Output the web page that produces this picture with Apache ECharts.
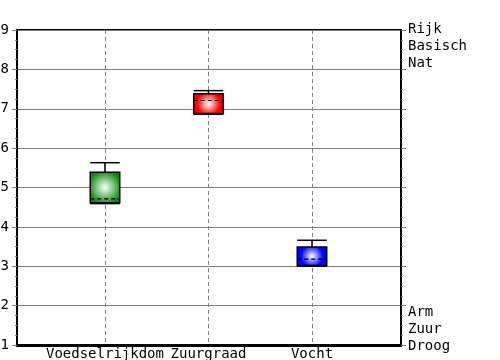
<!DOCTYPE html>
<html>
<head>
<meta charset="utf-8">
<script src="https://cdn.jsdelivr.net/npm/echarts@6/dist/echarts.min.js"></script>
<style>html,body{margin:0;padding:0;background:#fff}#c{width:500px;height:360px}</style>
</head>
<body>
<div id="c"></div>
<script>
var categories = ['Voedselrijkdom', 'Zuurgraad', 'Vocht'];
var whiskerHigh = [5.63, 7.46, 3.66];
var boxHigh = [5.39, 7.38, 3.49];
var boxLow = [4.61, 6.88, 3.02];
var whiskerLow = [4.61, 6.88, 3.02];
var means = [4.71, 7.21, 3.18];
var boxColors = ['#058a05', '#ff0000', '#0000ff'];
var yTicks = [1, 2, 3, 4, 5, 6, 7, 8, 9];
var topLabels = ['Rijk', 'Basisch', 'Nat'];
var bottomLabels = ['Arm', 'Zuur', 'Droog'];

var FONT = 'DejaVu Sans Mono';
var data = categories.map(function (c, i) {
  return [i + 1, whiskerLow[i], boxLow[i], boxHigh[i], whiskerHigh[i], means[i]];
});

var chart = echarts.init(document.getElementById('c'), null, {renderer: 'canvas'});
chart.setOption({
  animation: false,
  backgroundColor: '#fff',
  grid: {left: 17, right: 99, top: 30, bottom: 15, show: true, borderColor: '#000', borderWidth: 2, containLabel: false, outerBoundsMode: 'none'},
  xAxis: {
    type: 'value', min: 0.15, max: 3.86,
    axisLine: {show: true, onZero: false, lineStyle: {color: '#000', width: 3}},
    axisTick: {show: false, customValues: [1, 2, 3]},
    axisLabel: {customValues: [1, 2, 3], margin: 2, color: '#000', fontFamily: FONT, fontSize: 14,
      formatter: function (v) { return categories[Math.round(v) - 1] || ''; }},
    splitLine: {show: true, lineStyle: {color: '#808080', type: [4, 3], width: 1}}
  },
  yAxis: [{
    type: 'value', min: 1, max: 9, interval: 1, position: 'left',
    axisLine: {show: true, lineStyle: {color: '#000', width: 2}},
    axisTick: {show: true, length: 5, lineStyle: {color: '#808080'}},
    minorTick: {show: true, splitNumber: 4, length: 2, lineStyle: {color: '#808080'}},
    axisLabel: {margin: 8, color: '#000', fontFamily: FONT, fontSize: 14,
      formatter: function (v) { return yTicks.indexOf(v) >= 0 ? String(v) : ''; }},
    splitLine: {show: true, lineStyle: {color: '#808080', width: 1}}
  }, {
    type: 'value', min: 1, max: 9, interval: 1, position: 'right',
    axisLine: {show: true, lineStyle: {color: '#000', width: 2}},
    axisTick: {show: true, length: 5, lineStyle: {color: '#808080'}},
    minorTick: {show: true, splitNumber: 4, length: 2, lineStyle: {color: '#808080'}},
    axisLabel: {customValues: [8.594, 1.406], margin: 7, color: '#000', fontFamily: FONT, fontSize: 14, lineHeight: 17, align: 'left',
      formatter: function (v) { return (v > 5 ? topLabels : bottomLabels).join('\n'); }},
    splitLine: {show: false}
  }],
  series: [{
    type: 'custom',
    data: data,
    encode: {x: 0, y: [1, 2, 3, 4, 5]},
    clip: false,
    z: 5,
    renderItem: function (params, api) {
      var i = params.dataIndex;
      var x = api.value(0);
      var pLow = api.coord([x, api.value(1)]);
      var pQ1 = api.coord([x, api.value(2)]);
      var pQ3 = api.coord([x, api.value(3)]);
      var pHigh = api.coord([x, api.value(4)]);
      var pMean = api.coord([x, api.value(5)]);
      var w = api.size([0.285, 0])[0];
      var cx = pQ1[0];
      var col = boxColors[i];
      var blk = {stroke: '#000', lineWidth: 1.5};
      return {type: 'group', children: [
        {type: 'line', shape: {x1: cx, y1: pQ3[1], x2: cx, y2: pHigh[1]}, style: blk},
        {type: 'line', shape: {x1: cx - w / 2, y1: pHigh[1], x2: cx + w / 2, y2: pHigh[1]}, style: blk},
        {type: 'rect', shape: {x: cx - w / 2, y: pQ3[1], width: w, height: pQ1[1] - pQ3[1]},
          style: {fill: new echarts.graphic.RadialGradient(0.5, 0.5, 0.55, [
            {offset: 0, color: '#ffffff'}, {offset: 1, color: col}]), stroke: '#000', lineWidth: 1.5}},
        {type: 'line', shape: {x1: cx, y1: pQ1[1], x2: cx, y2: pLow[1]}, style: blk},
        {type: 'line', shape: {x1: cx - w / 2, y1: pLow[1] + 0.5, x2: cx + w / 2, y2: pLow[1] + 0.5}, style: {stroke: '#000', lineWidth: 2}},
        {type: 'line', shape: {x1: cx - w / 2, y1: pMean[1], x2: cx + w / 2, y2: pMean[1]}, style: {stroke: '#000', lineWidth: 1.2, lineDash: [4, 3]}}
      ]};
    }
  }]
});
</script>
</body>
</html>
